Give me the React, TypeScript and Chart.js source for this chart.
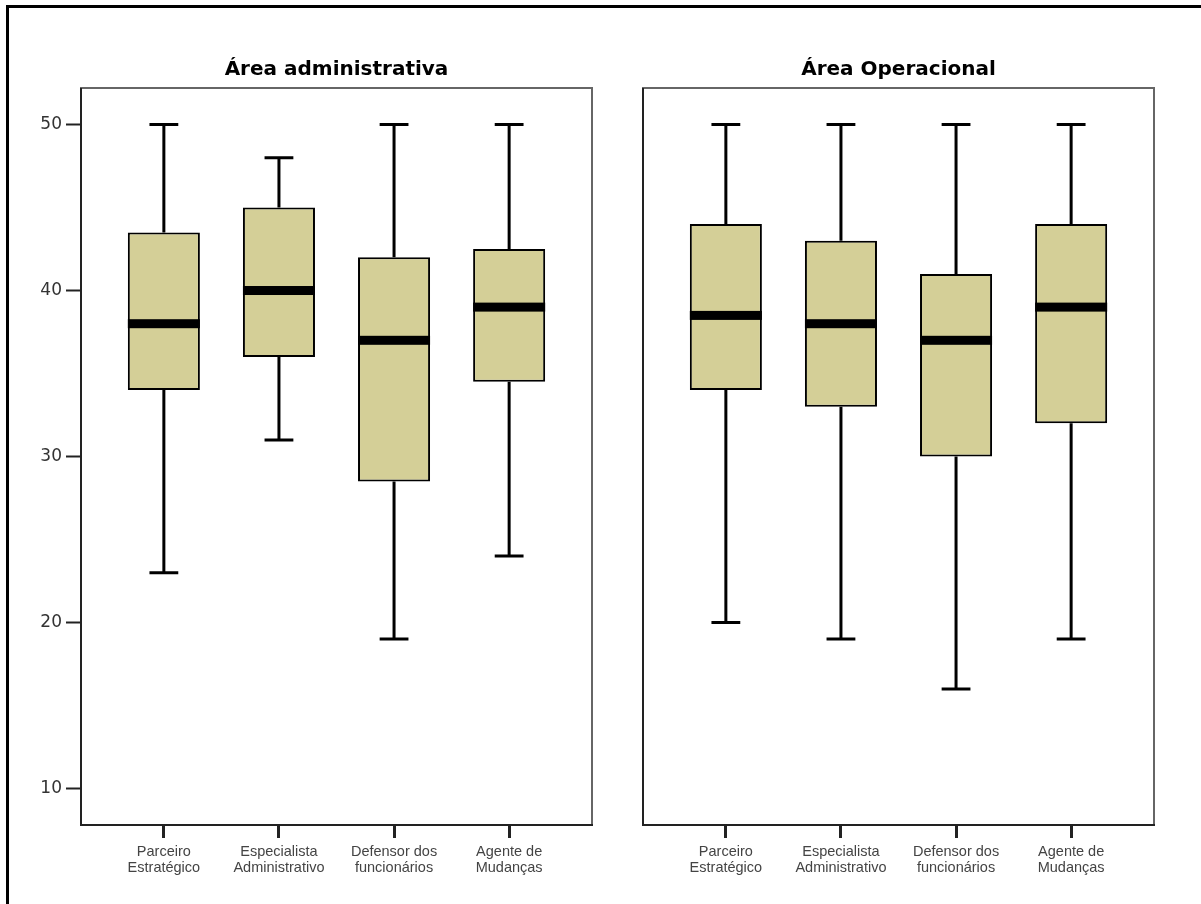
import { useEffect, useRef } from "react";
import { Chart, registerables } from "chart.js";

Chart.register(...registerables);

const FONT = "'Liberation Sans', Arial, sans-serif";
const TITLE_FONT = "'DejaVu Sans', Verdana, sans-serif";

const categories: string[][] = [
  ["Parceiro", "Estratégico"],
  ["Especialista", "Administrativo"],
  ["Defensor dos", "funcionários"],
  ["Agente de", "Mudanças"],
];
const yTicks = [10, 20, 30, 40, 50];

const adminMin = [23, 31, 19, 24];
const adminQ1 = [34, 36, 28.5, 34.5];
const adminMedian = [38, 40, 37, 39];
const adminQ3 = [43.5, 45, 42, 42.5];
const adminMax = [50, 48, 50, 50];

const operMin = [20, 19, 16, 19];
const operQ1 = [34, 33, 30, 32];
const operMedian = [38.5, 38, 37, 39];
const operQ3 = [44, 43, 41, 44];
const operMax = [50, 50, 50, 50];

function makeBoxPlugin(mn: number[], q1: number[], med: number[], q3: number[], mx: number[]) {
  return {
    id: "boxExtras",
    beforeDatasetsDraw(chart: any) {
      const { ctx } = chart;
      const x = chart.scales.x;
      const y = chart.scales.y;
      const meta = chart.getDatasetMeta(0);
      ctx.save();
      ctx.strokeStyle = "#000";
      ctx.lineWidth = 3;
      ctx.lineCap = "butt";
      meta.data.forEach((bar: any, i: number) => {
        const cx = x.getPixelForValue(i);
        const w = bar.width * 0.4;
        const yMin = y.getPixelForValue(mn[i]);
        const yMax = y.getPixelForValue(mx[i]);
        const yQ1 = y.getPixelForValue(q1[i]);
        const yQ3 = y.getPixelForValue(q3[i]);
        ctx.beginPath();
        ctx.moveTo(cx, yQ3);
        ctx.lineTo(cx, yMax);
        ctx.moveTo(cx, yQ1);
        ctx.lineTo(cx, yMin);
        ctx.moveTo(cx - w / 2, yMax);
        ctx.lineTo(cx + w / 2, yMax);
        ctx.moveTo(cx - w / 2, yMin);
        ctx.lineTo(cx + w / 2, yMin);
        ctx.stroke();
      });
      ctx.restore();
    },
    afterDatasetsDraw(chart: any) {
      const { ctx } = chart;
      const x = chart.scales.x;
      const y = chart.scales.y;
      const meta = chart.getDatasetMeta(0);
      ctx.save();
      ctx.fillStyle = "#000";
      meta.data.forEach((bar: any, i: number) => {
        const cx = x.getPixelForValue(i);
        const w = bar.width;
        const ym = y.getPixelForValue(med[i]);
        ctx.fillRect(cx - w / 2, ym - 4.5, w, 9);
      });
      ctx.restore();
    },
    afterDraw(chart: any) {
      const { ctx, chartArea: a } = chart;
      ctx.save();
      ctx.strokeStyle = "#666";
      ctx.lineWidth = 2;
      ctx.strokeRect(a.left, a.top, a.right - a.left, a.bottom - a.top);
      ctx.strokeStyle = "#222";
      ctx.beginPath();
      ctx.moveTo(a.left - 1, a.bottom);
      ctx.lineTo(a.right + 1, a.bottom);
      ctx.moveTo(a.left, a.top);
      ctx.lineTo(a.left, a.bottom);
      ctx.stroke();
      ctx.restore();
    },
  };
}

function makeConfig(
  title: string,
  mn: number[],
  q1: number[],
  med: number[],
  q3: number[],
  mx: number[],
  showY: boolean,
  padLeft: number,
  padRight: number
): any {
  return {
    type: "bar",
    data: {
      datasets: [
        {
          data: categories.map((_, i) => ({ x: i, y: [q1[i], q3[i]] })),
          backgroundColor: "#d4cf97",
          borderColor: "#000",
          borderWidth: 2,
          borderSkipped: false,
          categoryPercentage: 1,
          barPercentage: 0.626,
        },
      ],
    },
    options: {
      animation: false,
      responsive: false,
      maintainAspectRatio: false,
      layout: { padding: { left: padLeft, right: padRight, top: 0, bottom: 0 } },
      plugins: {
        legend: { display: false },
        tooltip: { enabled: false },
        title: {
          display: true,
          text: title,
          fullSize: false,
          color: "#000",
          font: { family: TITLE_FONT, size: 20, weight: "bold", lineHeight: 1.2 },
          padding: { top: 58, bottom: 6 },
        },
      },
      scales: {
        x: {
          type: "linear",
          offset: false,
          min: -0.72,
          max: 3.72,
          afterBuildTicks: (s: any) => {
            s.ticks = categories.map((_, i) => ({ value: i }));
          },
          afterFit: (s: any) => {
            s.height = 79;
          },
          border: { display: false },
          grid: {
            offset: false,
            drawOnChartArea: false,
            drawTicks: true,
            tickLength: 13,
            tickWidth: 3,
            tickColor: "#222",
          },
          ticks: {
            autoSkip: false,
            maxRotation: 0,
            padding: 6,
            color: "#444",
            font: { family: FONT, size: 14.5, lineHeight: 1.1 },
            callback: (v: any) => categories[Math.round(v)] ?? "",
          },
        },
        y: {
          display: showY,
          min: 7.8,
          max: 52.2,
          afterBuildTicks: (s: any) => {
            s.ticks = yTicks.map((v) => ({ value: v }));
          },
          afterFit: (s: any) => {
            if (showY) s.width = 81;
          },
          border: { display: false },
          grid: {
            drawOnChartArea: false,
            drawTicks: true,
            tickLength: 15,
            tickWidth: 2,
            tickColor: "#222",
          },
          ticks: {
            padding: 4,
            color: "#333",
            font: { family: TITLE_FONT, size: 17 },
          },
        },
      },
    },
    plugins: [makeBoxPlugin(mn, q1, med, q3, mx)],
  };
}

export default function App() {
  const leftRef = useRef<HTMLCanvasElement>(null);
  const rightRef = useRef<HTMLCanvasElement>(null);

  useEffect(() => {
    const c1 = new Chart(
      leftRef.current as HTMLCanvasElement,
      makeConfig("Área administrativa", adminMin, adminQ1, adminMedian, adminQ3, adminMax, true, 0, 8)
    );
    const c2 = new Chart(
      rightRef.current as HTMLCanvasElement,
      makeConfig("Área Operacional", operMin, operQ1, operMedian, operQ3, operMax, false, 43, 47)
    );
    return () => {
      c1.destroy();
      c2.destroy();
    };
  }, []);

  return (
    <div
      style={{
        position: "absolute",
        left: 0,
        top: 0,
        width: 1201,
        height: 904,
        overflow: "hidden",
        background: "#fff",
      }}
    >
      <div
        style={{
          position: "absolute",
          left: 6,
          top: 5,
          width: 1400,
          height: 1100,
          borderLeft: "3px solid #000",
          borderTop: "3px solid #000",
        }}
      />
      <canvas
        ref={leftRef}
        width={600}
        height={904}
        style={{ position: "absolute", left: 0, top: 0, width: 600, height: 904 }}
      />
      <canvas
        ref={rightRef}
        width={601}
        height={904}
        style={{ position: "absolute", left: 600, top: 0, width: 601, height: 904 }}
      />
    </div>
  );
}
